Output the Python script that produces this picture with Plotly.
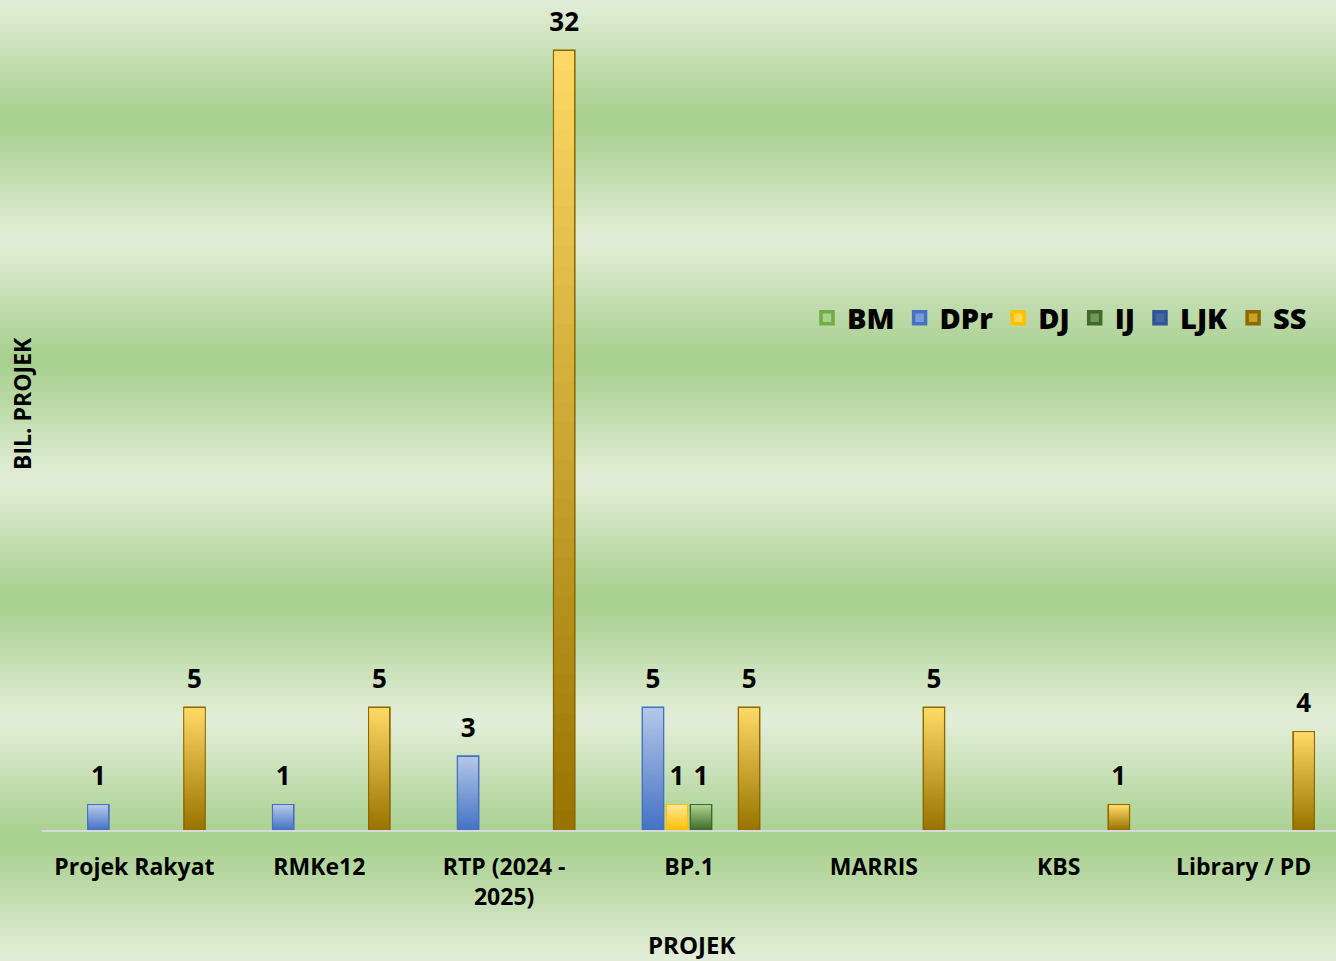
import plotly.graph_objects as go

CATEGORIES = ["Projek Rakyat", "RMKe12", "RTP (2024 - 2025)", "BP.1", "MARRIS", "KBS", "Library / PD"]
TICK_LABELS = ["Projek Rakyat", "RMKe12", "RTP (2024 -<br>2025)", "BP.1", "MARRIS", "KBS", "Library / PD"]

SERIES = ["BM", "DPr", "DJ", "IJ", "LJK", "SS"]
BM = [None, None, None, None, None, None, None]
DPR = [1, 1, 3, 5, None, None, None]
DJ = [None, None, None, 1, None, None, None]
IJ = [None, None, None, 1, None, None, None]
LJK = [None, None, None, None, None, None, None]
SS = [5, 5, 32, 5, 5, 1, 4]
VALUES = [BM, DPR, DJ, IJ, LJK, SS]

# (top colour, bottom colour, border, legend fill)
STYLES = {
    "BM": ("#C5E0B4", "#70AD47", "#70AD47", "#A9D18E"),
    "DPr": ("#B4C7E7", "#4472C4", "#4472C4", "#7C9BD6"),
    "DJ": ("#FFE699", "#FFC000", "#FFC000", "#FFD54F"),
    "IJ": ("#A9D18E", "#3F6B2A", "#43682B", "#6E9A55"),
    "LJK": ("#8FAADC", "#203864", "#2F5597", "#4A66A0"),
    "SS": ("#FFD966", "#997300", "#8C6A00", "#C9A227"),
}

W, H = 1336, 961
ML, MR, MT, MB = 42, 0, 10, 131
PH = H - MT - MB
PW = W - ML - MR
N_SLICES = 40
FONT = "Open Sans, sans-serif"


def _hex(c):
    c = c.lstrip("#")
    return tuple(int(c[i:i + 2], 16) for i in (0, 2, 4))


def _mix(a, b, t):
    ra, rb = _hex(a), _hex(b)
    return "rgb(%d,%d,%d)" % tuple(round(x + (y - x) * t) for x, y in zip(ra, rb))


def _py(y_px):
    return (H - MB - y_px) / PH


fig = go.Figure()

for name, vals in zip(SERIES, VALUES):
    top, bottom, border, legend_fill = STYLES[name]
    fig.add_trace(go.Bar(
        name=name, x=CATEGORIES, y=vals, offsetgroup=name,
        marker=dict(color=legend_fill, line=dict(color=border, width=3.5)),
        # small blank second line lifts the label a little off the bar
        texttemplate="<span style='font-size:26px'>%{y}</span><br> ",
        textposition="outside", cliponaxis=False, constraintext="none",
        textfont=dict(family=FONT, size=11, color="black", weight="bold"),
        hovertemplate="%{x}<br>" + name + ": %{y}<extra></extra>",
    ))
    # vertical gradient: each slice runs from its base to the bar top,
    # so later (lighter) slices cover the upper part of earlier ones
    for k in range(N_SLICES):
        fig.add_trace(go.Bar(
            x=CATEGORIES,
            y=[None if v is None else v * (N_SLICES - k) / N_SLICES for v in vals],
            base=[None if v is None else v * k / N_SLICES for v in vals],
            offsetgroup=name, showlegend=False, hoverinfo="skip",
            marker=dict(color=_mix(bottom, top, (k + 0.5) / N_SLICES), line=dict(width=0)),
        ))

# banded green background
shapes = []
step = 8
for y0 in range(0, H, step):
    phase = ((y0 + step / 2) % 240) / 240
    f = 1 - abs(2 * phase - 1)
    shapes.append(dict(
        type="rect", xref="paper", yref="paper", layer="below",
        x0=-ML / PW, x1=1 + MR / PW, y0=_py(y0 + step + 0.5), y1=_py(y0),
        fillcolor=_mix("#E3EED9", "#A6CF8C", f), line=dict(width=0),
    ))

fig.update_layout(
    width=W, height=H, autosize=False,
    margin=dict(l=ML, r=MR, t=MT, b=MB),
    barmode="group", bargap=0.22, bargroupgap=0.2,
    paper_bgcolor="#E3EED9", plot_bgcolor="rgba(0,0,0,0)",
    shapes=shapes,
    font=dict(family=FONT, color="black"),
    showlegend=True,
    legend=dict(
        orientation="h", xanchor="right", x=(1312 - ML) / PW,
        yanchor="middle", y=_py(318), itemwidth=30,
        bgcolor="rgba(0,0,0,0)", traceorder="normal",
        font=dict(family=FONT, size=29, color="black", weight=800),
    ),
    annotations=[
        dict(text="BIL. PROJEK", xref="paper", yref="paper", x=(22 - ML) / PW, y=_py(404),
             xanchor="center", yanchor="middle", textangle=-90, showarrow=False,
             font=dict(family=FONT, size=23, color="black", weight="bold")),
        dict(text="PROJEK", xref="paper", yref="paper", x=(691 - ML) / PW, y=_py(945),
             xanchor="center", yanchor="middle", showarrow=False, borderpad=0,
             font=dict(family=FONT, size=24, color="black", weight="bold")),
    ],
)
fig.update_xaxes(
    tickvals=CATEGORIES, ticktext=TICK_LABELS, showline=True, linecolor="#D9D9D9",
    linewidth=2, ticks="", ticklabelstandoff=15, showgrid=False,
    tickfont=dict(family=FONT, size=23, color="black", weight="bold"),
)
fig.update_yaxes(range=[0, 33.7], showticklabels=False, showgrid=False, zeroline=False, ticks="")

fig.write_html(
    "out.html",
    config={"displayModeBar": False},
    post_script="document.body.style.margin='0';",
)
